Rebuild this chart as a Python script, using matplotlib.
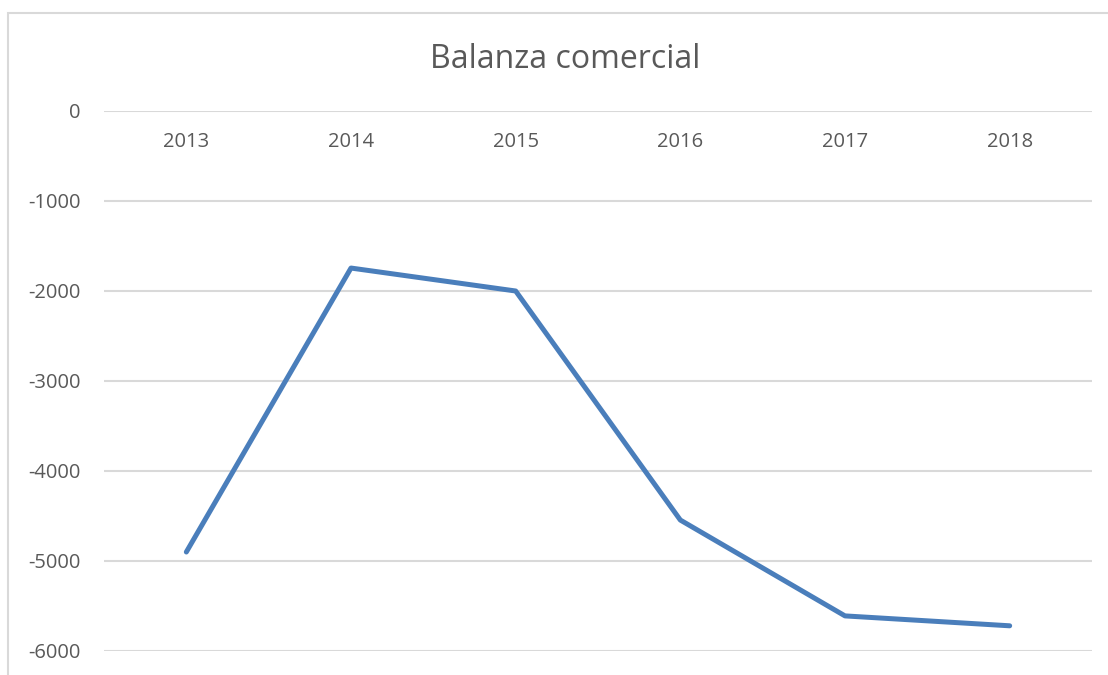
import matplotlib.pyplot as plt
from matplotlib.patches import Rectangle

years = ["2013", "2014", "2015", "2016", "2017", "2018"]
balanza = [-4900, -1745, -2000, -4545, -5610, -5720]
y_ticks = [0, -1000, -2000, -3000, -4000, -5000, -6000]

plt.rcParams['font.family'] = ['Open Sans', 'DejaVu Sans']
text_color = "#595959"
grid_color = "#d9d9d9"

fig = plt.figure(figsize=(11.08, 6.75), dpi=100)

# chart border (cut off on the right and bottom like the original)
fig.patches.append(Rectangle((8 / 1108, -0.1), 1.2, 1 - 13 / 675 + 0.1,
                             transform=fig.transFigure, fill=False,
                             edgecolor=grid_color, linewidth=1.5))

ax = fig.add_axes([104 / 1108, 1 - 651 / 675, 988 / 1108, 540 / 675])
x = range(len(years))
ax.plot(x, balanza, color="#4a7ebb", linewidth=3.6, solid_capstyle="round",
        solid_joinstyle="round")

ax.set_xlim(-0.5, len(years) - 0.5)
ax.set_ylim(-6000, 0)
ax.set_yticks(y_ticks)
ax.set_yticklabels([str(v) for v in y_ticks])
ax.yaxis.grid(True, color=grid_color, linewidth=1.5)
ax.set_axisbelow(True)
ax.tick_params(axis="y", length=0, pad=17, labelsize=14.5, labelcolor=text_color)
ax.set_xticks([])
for s in ax.spines.values():
    s.set_visible(False)

# category labels sit just under the zero line
for i, yr in enumerate(years):
    ax.text(i, 1 - 31 / 540, yr, transform=ax.get_xaxis_transform(),
            ha="center", va="center", fontsize=14.5, color=text_color)

fig.text(565 / 1108, 1 - 59 / 675, "Balanza comercial", ha="center", va="center",
         fontsize=23, color=text_color)

fig.savefig("out.png", dpi=100)
